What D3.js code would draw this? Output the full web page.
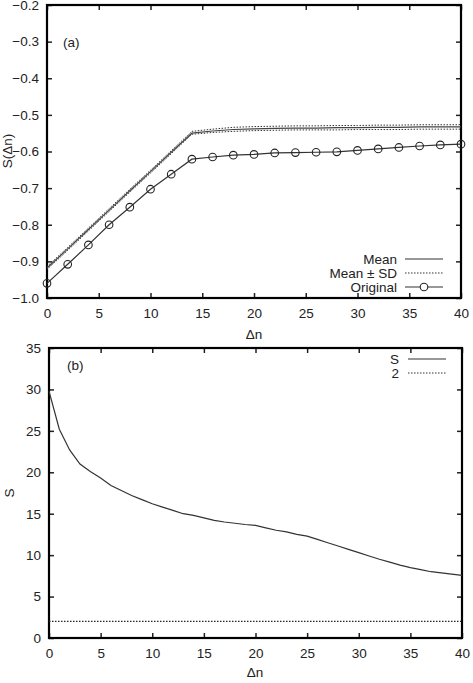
<!DOCTYPE html>
<html><head><meta charset="utf-8">
<script src="https://cdn.jsdelivr.net/npm/d3@7/dist/d3.min.js"></script>
<style>body{margin:0;background:#fff}svg{display:block}text{font-family:"Liberation Sans",Arial,sans-serif;fill:#222}</style>
</head><body><svg id="c" width="473" height="683"></svg>
<script>
// ---- data ----
const dnEven = [0,2,4,6,8,10,12,14,16,18,20,22,24,26,28,30,32,34,36,38,40];
const original = [-0.960,-0.908,-0.855,-0.800,-0.752,-0.703,-0.662,-0.621,-0.615,-0.610,-0.608,-0.604,-0.603,-0.602,-0.601,-0.597,-0.593,-0.589,-0.585,-0.582,-0.580];
const meanVals = [-0.918,-0.866,-0.813,-0.760,-0.707,-0.655,-0.602,-0.550,-0.544,-0.540,-0.538,-0.537,-0.536,-0.536,-0.535,-0.535,-0.534,-0.534,-0.533,-0.533,-0.533];
const sdUpper = [-0.914,-0.862,-0.809,-0.756,-0.703,-0.651,-0.598,-0.545,-0.539,-0.534,-0.532,-0.531,-0.530,-0.530,-0.529,-0.529,-0.528,-0.528,-0.527,-0.527,-0.527];
const sdLower = [-0.922,-0.870,-0.817,-0.764,-0.711,-0.659,-0.606,-0.553,-0.548,-0.545,-0.543,-0.542,-0.541,-0.541,-0.541,-0.540,-0.540,-0.540,-0.539,-0.539,-0.539];
const dnAll = d3.range(0,41);
const sVals = [29.8,25.2,22.7,21.0,20.1,19.3,18.4,17.8,17.2,16.7,16.2,15.8,15.4,15.0,14.8,14.5,14.2,14.0,13.85,13.7,13.6,13.3,13.0,12.8,12.5,12.3,11.9,11.5,11.1,10.7,10.3,9.9,9.5,9.15,8.8,8.5,8.25,8.0,7.85,7.7,7.55];
const refVals = dnAll.map(()=>2);
const xTicks = [0,5,10,15,20,25,30,35,40];
const yTicksA = [-1.0,-0.9,-0.8,-0.7,-0.6,-0.5,-0.4,-0.3,-0.2];
const yTicksB = [0,5,10,15,20,25,30,35];

const svg = d3.select("#c");
const FS = "13.5px";
const ink = "#222";

function panel(cfg){
  const x = d3.scaleLinear().domain([0,40]).range([cfg.x0,cfg.x1]);
  const y = d3.scaleLinear().domain(cfg.ydom).range([cfg.yb,cfg.yt]);
  const g = svg.append("g");
  const mk = (ax, tr, labels) => {
    const a = g.append("g").attr("transform",tr).call(ax.tickSizeOuter(0));
    a.select(".domain").remove();
    a.selectAll("line").attr("stroke",ink).attr("stroke-width",1.5);
    if(!labels) a.selectAll("text").remove();
    else a.selectAll("text").style("font-size",FS).attr("fill",ink);
    return a;
  };
  const bx = mk(d3.axisBottom(x).tickValues(xTicks).tickFormat(d3.format("d")).tickSizeInner(-5).tickPadding(10),`translate(0,${cfg.yb})`,true);
  mk(d3.axisTop(x).tickValues(xTicks).tickSizeInner(-5),`translate(0,${cfg.yt})`,false);
  mk(d3.axisLeft(y).tickValues(cfg.yticks).tickFormat(cfg.yfmt).tickSizeInner(-5).tickPadding(8),`translate(${cfg.x0},0)`,true);
  mk(d3.axisRight(y).tickValues(cfg.yticks).tickSizeInner(-5),`translate(${cfg.x1},0)`,false);
  g.append("rect").attr("x",cfg.x0).attr("y",cfg.yt).attr("width",cfg.x1-cfg.x0).attr("height",cfg.yb-cfg.yt)
    .attr("fill","none").attr("stroke","#000").attr("stroke-width",2.2);
  return {x,y,g};
}

// Panel (a)
const A = panel({x0:47,x1:461,yt:5,yb:298,ydom:[-1.0,-0.2],yticks:yTicksA,yfmt:d3.format(".1f")});
const lineA = (vals)=>d3.line().x((d,i)=>A.x(dnEven[i])).y(d=>A.y(d))(vals);
A.g.append("path").attr("d",lineA(sdUpper)).attr("fill","none").attr("stroke","#333").attr("stroke-width",1).attr("stroke-dasharray","1.5,1.5");
A.g.append("path").attr("d",lineA(sdLower)).attr("fill","none").attr("stroke","#333").attr("stroke-width",1).attr("stroke-dasharray","1.5,1.5");
A.g.append("path").attr("d",lineA(meanVals)).attr("fill","none").attr("stroke","#444").attr("stroke-width",1.2);
A.g.append("path").attr("d",lineA(original)).attr("fill","none").attr("stroke","#333").attr("stroke-width",1.2);
A.g.selectAll("circle.o").data(original).join("circle").attr("class","o")
  .attr("cx",(d,i)=>A.x(dnEven[i])).attr("cy",d=>A.y(d)).attr("r",3.8)
  .attr("fill","none").attr("stroke","#222").attr("stroke-width",1.1);
svg.append("text").attr("x",63).attr("y",47).style("font-size",FS).text("(a)");
// legend a
const legA = [{t:"Mean",y:259,dash:null},{t:"Mean \u00b1 SD",y:273,dash:"1.5,1.5"},{t:"Original",y:287,dash:null,circ:true}];
legA.forEach(l=>{
  svg.append("text").attr("x",397).attr("y",l.y+5).attr("text-anchor","end").style("font-size",FS).text(l.t);
  svg.append("line").attr("x1",405).attr("x2",443).attr("y1",l.y).attr("y2",l.y).attr("stroke","#333").attr("stroke-width",1.2).attr("stroke-dasharray",l.dash);
  if(l.circ) svg.append("circle").attr("cx",424).attr("cy",l.y).attr("r",3.8).attr("fill","#fff").attr("stroke","#222").attr("stroke-width",1.1);
});
svg.append("text").attr("transform","translate(12,151) rotate(-90)").attr("text-anchor","middle").style("font-size",FS).text("S(\u0394n)");
svg.append("text").attr("x",254).attr("y",339).attr("text-anchor","middle").style("font-size",FS).text("\u0394n");

// Panel (b)
const B = panel({x0:49,x1:462,yt:348,yb:638,ydom:[0,35],yticks:yTicksB,yfmt:d3.format("d")});
const lineB = d3.line().x((d,i)=>B.x(dnAll[i])).y(d=>B.y(d));
B.g.append("path").attr("d",lineB(sVals)).attr("fill","none").attr("stroke","#333").attr("stroke-width",1.2);
B.g.append("path").attr("d",lineB(refVals)).attr("fill","none").attr("stroke","#222").attr("stroke-width",1.2).attr("stroke-dasharray","1.5,1.5");
svg.append("text").attr("x",67).attr("y",370).style("font-size",FS).text("(b)");
const legB = [{t:"S",y:359,dash:null},{t:"2",y:373,dash:"1.5,1.5"}];
legB.forEach(l=>{
  svg.append("text").attr("x",399).attr("y",l.y+5).attr("text-anchor","end").style("font-size",FS).text(l.t);
  svg.append("line").attr("x1",408).attr("x2",446).attr("y1",l.y).attr("y2",l.y).attr("stroke","#333").attr("stroke-width",1.2).attr("stroke-dasharray",l.dash);
});
svg.append("text").attr("transform","translate(14,493) rotate(-90)").attr("text-anchor","middle").style("font-size",FS).text("S");
svg.append("text").attr("x",255).attr("y",677).attr("text-anchor","middle").style("font-size",FS).text("\u0394n");
</script></body></html>
